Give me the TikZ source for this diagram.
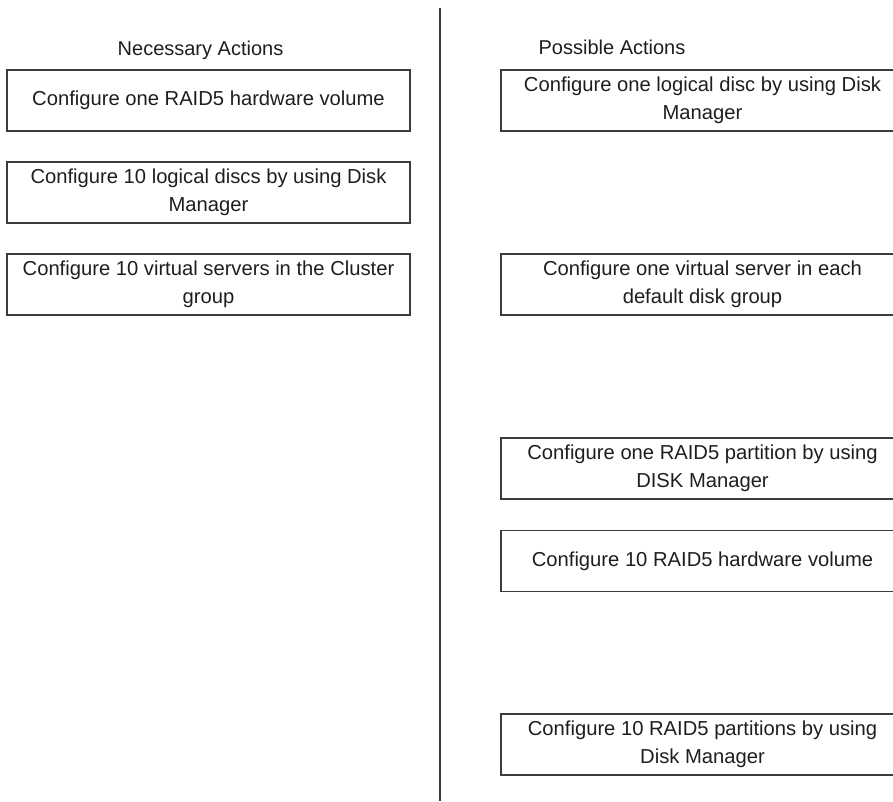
\documentclass[tikz,border=0pt]{standalone}
\usepackage{fontspec}
\setmainfont{Liberation Sans}
\usepackage{tikz}
\usetikzlibrary{positioning}

\definecolor{boxline}{RGB}{60,60,60}
\definecolor{inktext}{RGB}{30,30,30}

\begin{document}
\begin{tikzpicture}[x=1pt,y=-1pt,node distance=92pt,on grid,
        action/.style={draw=boxline,line width=1.3pt,text=inktext,minimum width=403pt,
            minimum height=61pt,align=center,inner sep=0pt,
            font=\fontsize{20.2}{28}\selectfont},
        heading/.style={text=inktext,font=\fontsize{20}{24}\selectfont}]
        \useasboundingbox (0,0) rectangle (893,801);

        % divider between the two columns
        \coordinate (divtop) at (440,8);
        \coordinate (divbot) at (440,801);
        \draw[boxline,line width=1.6pt] (divtop) -- (divbot);

        \node[heading] (necessary) at (200.5,50) {Necessary Actions};
        \node[heading] (possible) at (612,47) {Possible Actions};

        % necessary actions
        \node[action] (n_1) at (208.5,100.5) {Configure one RAID5 hardware volume};
        \node[action] (n_2) [below=of n_1] {Configure 10 logical discs by using Disk\\Manager};
        \node[action] (n_3) [below=of n_2] {Configure 10 virtual servers in the Cluster\\group};

        % possible actions
        \node[action] (p_1) at (702.5,100.5) {Configure one logical disc by using Disk\\Manager};
        \node[action] (p_2) [below=184pt of p_1] {Configure one virtual server in each\\default disk group};
        \node[action] (p_3) [below=184pt of p_2] {Configure one RAID5 partition by using\\DISK Manager};
        \node[action] (p_4) [below=92.5pt of p_3] {Configure 10 RAID5 hardware volume};
        \node[action] (p_5) [below=183.5pt of p_4] {Configure 10 RAID5 partitions by using\\Disk Manager};
    \end{tikzpicture}
\end{document}
